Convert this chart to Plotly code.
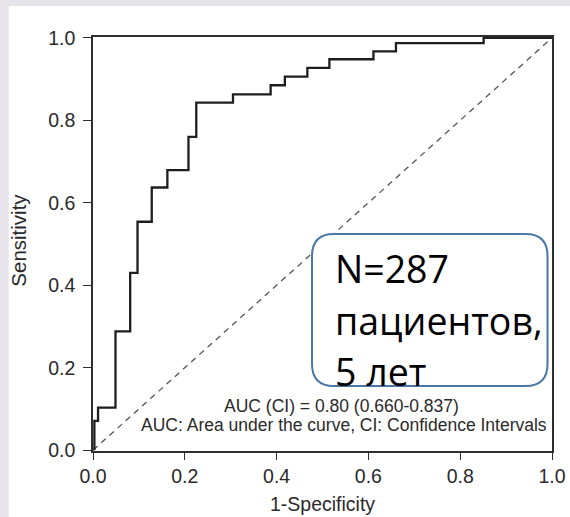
import plotly.graph_objects as go

# ROC step curve vertices (1-specificity, sensitivity)
fpr = [0.003, 0.003, 0.011, 0.049, 0.081, 0.097, 0.128, 0.162, 0.208, 0.225,
       0.305, 0.387, 0.418, 0.467, 0.515, 0.611, 0.660, 0.851, 1.0]
tpr = [0.0, 0.071, 0.103, 0.288, 0.430, 0.554, 0.637, 0.679, 0.760, 0.843,
       0.863, 0.885, 0.906, 0.927, 0.948, 0.967, 0.987, 1.0, 1.0]
ref_x = [0.0, 1.0]
ref_y = [0.0, 1.0]
tick_vals = [0.0, 0.2, 0.4, 0.6, 0.8, 1.0]
tick_text = ["0.0", "0.2", "0.4", "0.6", "0.8", "1.0"]
auc_line1 = "AUC (CI) = 0.80 (0.660-0.837)"
auc_line2 = "AUC: Area under the curve, CI: Confidence Intervals"
box_lines = ["N=287", "пациентов,", "5 лет"]
x_title = "1-Specificity"
y_title = "Sensitivity"

W, H = 570, 517
L, R, T, B = 92.5, 17.5, 37, 66
PW = W - L - R
PH = H - T - B
XR = [0.0, 1.0]
YR = [-0.002, 1.002]

def px_to_x(px):
    return XR[0] + (px - L) / PW * (XR[1] - XR[0])

def py_to_y(py):
    return YR[1] - (py - T) / PH * (YR[1] - YR[0])

def px_to_paper(px):
    return (px - L) / PW

def py_to_paper(py):
    return (H - B - py) / PH

fig = go.Figure()
fig.add_trace(go.Scatter(x=ref_x, y=ref_y, mode="lines",
                         line=dict(color="#555555", width=1.3, dash="6px,5px"),
                         hoverinfo="skip", showlegend=False))
fig.add_trace(go.Scatter(x=fpr, y=tpr, mode="lines", line_shape="hv",
                         line=dict(color="#1e1e1e", width=2.3),
                         showlegend=False))

shapes = []
# outer frame backdrop
shapes.append(dict(type="rect", xref="paper", yref="paper", layer="below",
                   x0=px_to_paper(8), x1=px_to_paper(W + 2),
                   y0=py_to_paper(H + 2), y1=py_to_paper(6),
                   fillcolor="white", line=dict(width=0)))

# rounded info box
bx0, bx1 = px_to_x(312), px_to_x(548)
by0, by1 = py_to_y(386), py_to_y(234)
rx = 22 / PW * (XR[1] - XR[0])
ry = 22 / PH * (YR[1] - YR[0])
path = (f"M {bx0+rx},{by1} L {bx1-rx},{by1} Q {bx1},{by1} {bx1},{by1-ry} "
        f"L {bx1},{by0+ry} Q {bx1},{by0} {bx1-rx},{by0} "
        f"L {bx0+rx},{by0} Q {bx0},{by0} {bx0},{by0+ry} "
        f"L {bx0},{by1-ry} Q {bx0},{by1} {bx0+rx},{by1} Z")
shapes.append(dict(type="path", xref="x", yref="y", path=path, layer="above",
                   fillcolor="white", line=dict(color="#4a78a4", width=2)))

annotations = []
for txt, pyc in zip(box_lines, [268, 320, 371]):
    annotations.append(dict(x=px_to_x(333), y=py_to_y(pyc), xref="x", yref="y",
                            text=txt, showarrow=False, xanchor="left", yanchor="middle",
                            font=dict(family="Open Sans, Noto Sans, sans-serif", size=37.5, color="black")))
annotations.append(dict(x=px_to_x(342), y=py_to_y(406), xref="x", yref="y",
                        text=auc_line1, showarrow=False, xanchor="center", yanchor="middle",
                        font=dict(family="Liberation Sans, Arial, sans-serif", size=17.5, color="#2a2a2a")))
annotations.append(dict(x=px_to_x(344), y=py_to_y(425), xref="x", yref="y",
                        text=auc_line2, showarrow=False, xanchor="center", yanchor="middle",
                        font=dict(family="Liberation Sans, Arial, sans-serif", size=17.5, color="#2a2a2a")))
annotations.append(dict(x=px_to_paper(18), y=py_to_paper(240), xref="paper", yref="paper",
                        text=y_title, textangle=-90, showarrow=False,
                        xanchor="center", yanchor="middle",
                        font=dict(family="Liberation Sans, Arial, sans-serif", size=20.5, color="#2a2a2a")))
annotations.append(dict(x=px_to_paper(323), y=py_to_paper(504), xref="paper", yref="paper",
                        text=x_title, showarrow=False, xanchor="center", yanchor="middle",
                        font=dict(family="Liberation Sans, Arial, sans-serif", size=19.5, color="#2a2a2a")))

axis_common = dict(showgrid=False, zeroline=False, showline=True, linecolor="#2e2e2e",
                   linewidth=1.6, mirror=True, ticks="outside", tickcolor="#2e2e2e",
                   tickwidth=1.4, tickvals=tick_vals, ticktext=tick_text, automargin=False,
                   tickfont=dict(family="Liberation Sans, Arial, sans-serif", size=19.5, color="#2a2a2a"))

fig.update_layout(
    width=W, height=H,
    margin=dict(l=L, r=R, t=T, b=B, pad=0),
    paper_bgcolor="#e7e3ea", plot_bgcolor="white",
    xaxis=dict(range=XR, ticklen=7, **axis_common),
    yaxis=dict(range=YR, ticklen=8, ticklabelstandoff=4, **axis_common),
    shapes=shapes, annotations=annotations,
    showlegend=False,
)

fig.write_html("out.html")
